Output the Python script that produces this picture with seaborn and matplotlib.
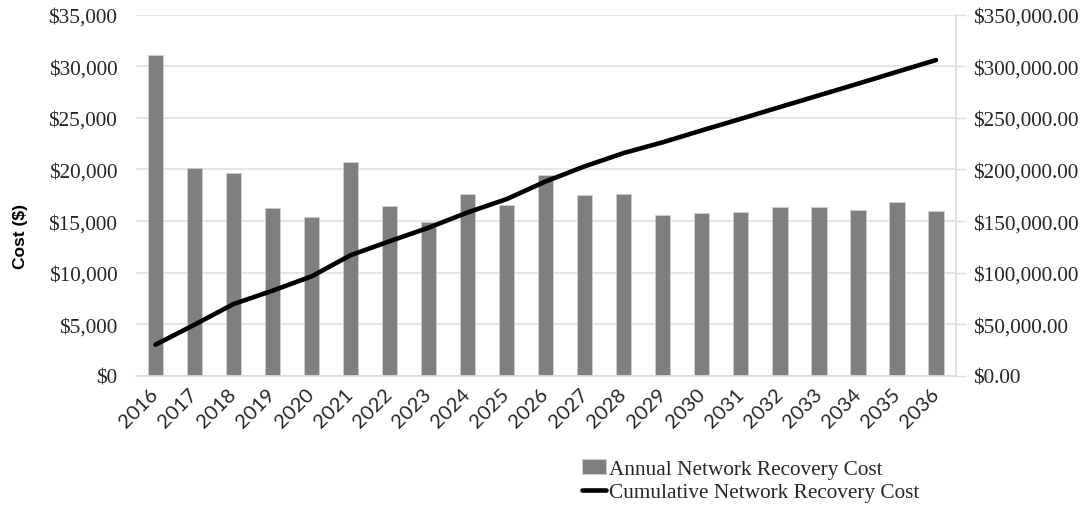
import numpy as np
import pandas as pd
import matplotlib
matplotlib.use("Agg")
import matplotlib.pyplot as plt
from matplotlib.ticker import FuncFormatter, MultipleLocator
import seaborn as sns

years = [str(y) for y in range(2016, 2037)]
annual_cost = [31100, 20150, 19700, 16250, 15400, 20700, 16500, 14900, 17600, 16550,
               19500, 17500, 17600, 15550, 15750, 15900, 16400, 16400, 16100, 16800, 16000]
cumulative_cost = [30300, 49700, 69700, 82600, 96500, 117000, 130500, 143600, 158400, 171300,
                   188400, 203000, 215900, 226300, 237800, 249000, 260400, 271700, 283000,
                   294500, 305900]

df = pd.DataFrame({"year": years, "annual": annual_cost, "cumulative": cumulative_cost})
df["pos"] = np.arange(len(df))

sns.set_theme(style="white")
plt.rcParams["font.family"] = ["Liberation Serif", "DejaVu Serif"]

fig = plt.figure(figsize=(10.87, 5.06), dpi=100)
ax = fig.add_axes([136 / 1087, 129 / 506, (955.5 - 136) / 1087, (377 - 15.5) / 506])

grid_c = "#dedede"
text_c = "#262626"
sns.barplot(data=df, x="year", y="annual", ax=ax, color="#7f7f7f", width=0.39,
            edgecolor="#cfcfcf", linewidth=0.6, saturation=1,
            label="Annual Network Recovery Cost", zorder=2)
ax.set_xlim(-0.5, len(df) - 0.5)
ax.set_ylim(0, 35000)
ax.yaxis.set_major_locator(MultipleLocator(5000))
ax.yaxis.set_major_formatter(FuncFormatter(lambda v, p: f"${v:,.0f}"))
ax.grid(axis="y", color=grid_c, linewidth=1.1, zorder=0)
ax.set_axisbelow(True)
for s in ["left", "top", "right"]:
    ax.spines[s].set_visible(False)
ax.spines["bottom"].set_color(grid_c)
ax.tick_params(axis="y", length=0, pad=13.5, labelsize=15.3, labelcolor=text_c)
ax.tick_params(axis="x", length=0, pad=11)
ax.set_xlabel("")
ax.set_ylabel("Cost ($)", fontsize=12.5, fontweight="bold",
              family=["Liberation Sans", "DejaVu Sans"], color="black")
ax.yaxis.set_label_coords(-0.1315, 0.39)
for lbl in ax.get_xticklabels():
    lbl.set_rotation(45)
    lbl.set_ha("right")
    lbl.set_va("center")
    lbl.set_rotation_mode("anchor")
    lbl.set_family(["Lato", "DejaVu Sans"])
    lbl.set_fontsize(14.5)
    lbl.set_color(text_c)

ax2 = ax.twinx()
sns.lineplot(data=df, x="pos", y="cumulative", ax=ax2, color="black", linewidth=3.3,
             solid_capstyle="round", label="Cumulative Network Recovery Cost", legend=False)
ax2.set_ylim(0, 350000)
ax2.yaxis.set_major_locator(MultipleLocator(50000))
ax2.yaxis.set_major_formatter(FuncFormatter(lambda v, p: f"${v:,.2f}"))
ax2.tick_params(axis="y", length=7, width=1, color=grid_c, pad=6, labelsize=15.3,
                labelcolor=text_c)
for s in ["left", "top", "bottom"]:
    ax2.spines[s].set_visible(False)
ax2.spines["right"].set_color(grid_c)
ax2.set_ylabel("")
ax2.set_xlabel("")
if ax.get_legend():
    ax.get_legend().remove()

h1, l1 = ax.get_legend_handles_labels()
h2, l2 = ax2.get_legend_handles_labels()
fig.legend(h1 + h2, l1 + l2, loc="upper left", bbox_to_anchor=(582 / 1087, 1 - 460 / 506),
           frameon=False, fontsize=15.3, handlelength=1.15, handletextpad=0.12,
           labelspacing=0.15, borderpad=0, borderaxespad=0, labelcolor=text_c)

fig.savefig("out.png", dpi=100)
